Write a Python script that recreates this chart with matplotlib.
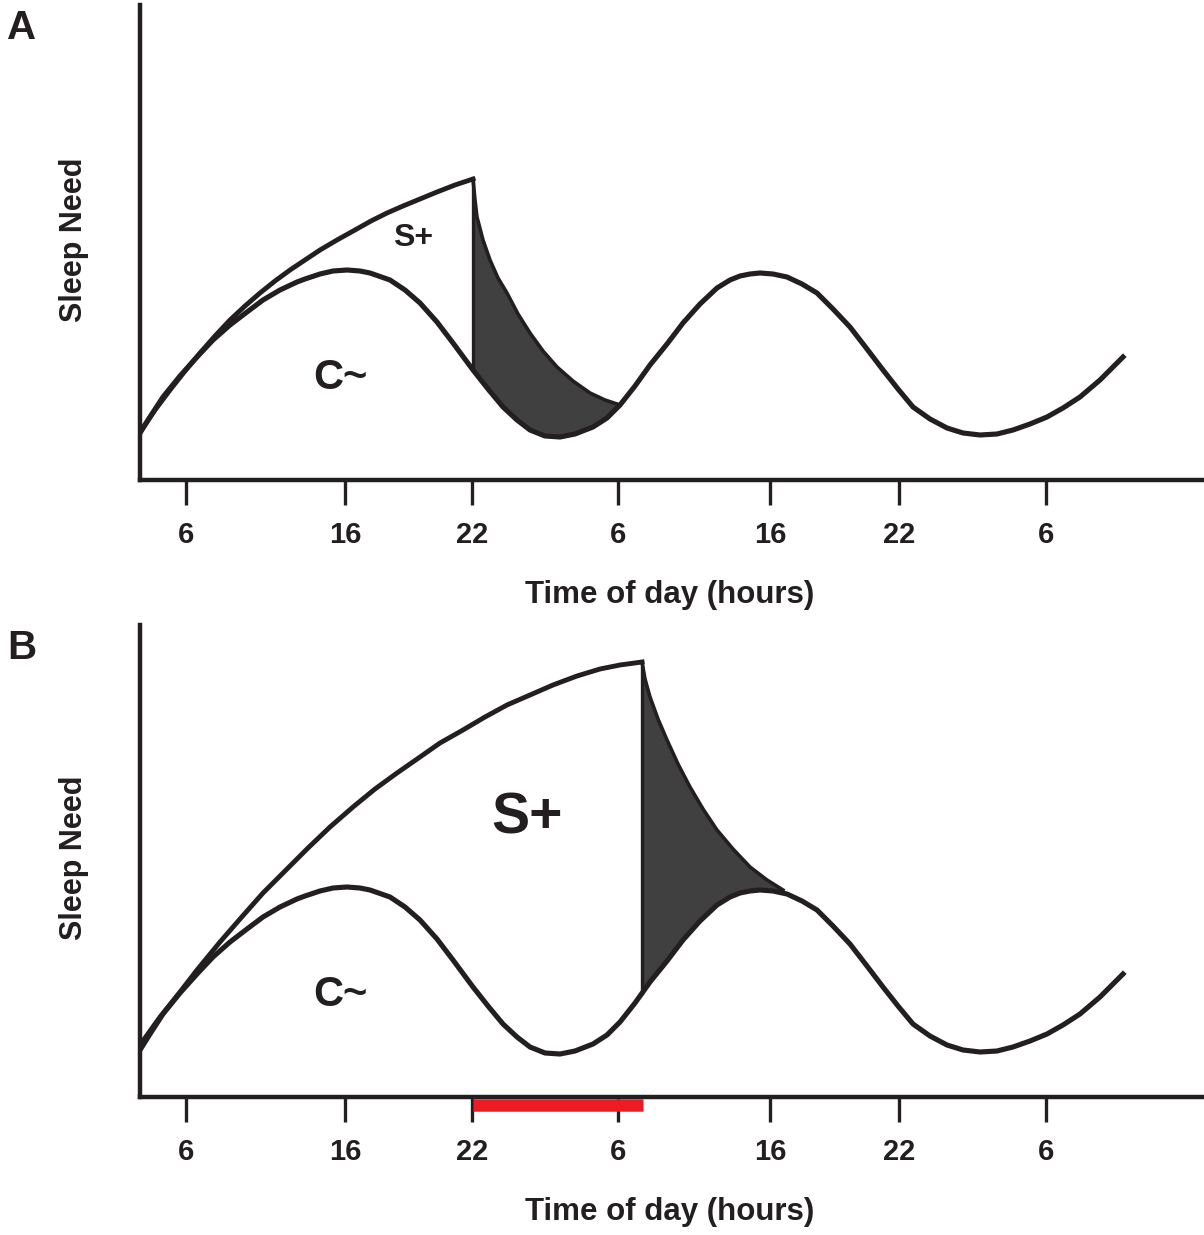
import numpy as np
import matplotlib
matplotlib.use("Agg")
import matplotlib.pyplot as plt

# x is a schematic time position (axis units), y is sleep need (axis units)
tick_pos = [46, 205, 332, 478, 630, 759, 906]
tick_labels = ["6", "16", "22", "6", "16", "22", "6"]

# circadian process C~ (same shape in both panels)
c_x = [0, 10, 23, 40, 57, 73, 90, 107, 123, 140, 157, 165, 180, 193, 207,
       220, 230, 250, 265, 280, 297, 313, 333, 348, 363, 377, 390, 405, 420,
       435, 453, 467, 480, 495, 510, 527, 543, 560, 577, 590, 600, 610, 620,
       633, 647, 662, 677, 693, 710, 727, 743, 758, 773, 790, 807, 823, 840,
       857, 873, 890, 907, 923, 940, 960, 983]
c_y = [47, 63, 83, 104, 123, 140, 155, 168, 180, 190, 198, 201, 206, 209, 210,
       209, 207, 200, 190, 177, 158, 137, 110, 91, 73, 60, 50, 44, 43,
       46, 53, 62, 75, 94, 115, 136, 157, 176, 192, 200, 204, 206, 207,
       206, 203, 196, 187, 171, 153, 131, 110, 91, 73, 61, 52, 47, 45,
       46, 50, 56, 63, 72, 83, 100, 123]

# panel A: homeostatic process S+ rising while awake, then decaying in sleep
sA_x = [0, 15, 30, 45, 60, 75, 90, 105, 120, 135, 150, 165, 180, 197, 215,
        231, 247, 263, 280, 297, 315, 333]
sA_y = [48, 70, 90, 109, 127, 144, 160, 174, 187, 199, 210, 220, 230, 240, 250,
        259, 267, 274, 281, 288, 295, 301]
dA_x = [333, 335, 337, 343, 350, 358, 367, 378, 390, 403, 417, 433, 450, 465, 480]
dA_y = [301, 280, 263, 240, 220, 202, 187, 166, 147, 129, 113, 99, 87, 80, 75]
onsetA_c = 110

# panel B: sleep deprived, S+ keeps rising
sB_x = [0, 20, 40, 57, 80, 100, 123, 145, 168, 190, 213, 235, 257, 280, 300,
        323, 345, 367, 390, 413, 437, 460, 480, 502]
sB_y = [52, 80, 105, 127, 155, 178, 204, 226, 249, 270, 290, 308, 324, 340, 354,
        367, 380, 392, 402, 412, 421, 428, 432, 435]
dB_x = [502, 505, 510, 518, 527, 538, 550, 563, 577, 593, 610, 627, 643]
dB_y = [435, 418, 400, 378, 357, 333, 310, 288, 267, 248, 230, 217, 207]
onsetB_c = 104

# missed sleep bar (panel B)
sleep_bar = [333, 503]

ink = "#231f20"
dark = "#404040"
red = "#ed1c24"
bold = ["Liberation Sans", "DejaVu Sans"]

fig = plt.figure(figsize=(12.04, 12.35), dpi=100)


def draw_panel(ax, s_x, s_y, d_x, d_y, onset_c, s_label_pos, s_size, ymax):
    # dark area between the decaying S curve and C
    cx = np.array(c_x)
    cy = np.array(c_y)
    mask = (cx > d_x[0]) & (cx < d_x[-1])
    poly_x = list(d_x) + list(cx[mask][::-1]) + [d_x[0]]
    poly_y = list(d_y) + list(cy[mask][::-1]) + [onset_c]
    ax.fill(poly_x, poly_y, color=dark, zorder=1, lw=0)

    ax.plot(c_x, c_y, color=ink, lw=3.7, zorder=3, solid_joinstyle="round")
    ax.plot(s_x, s_y, color=ink, lw=3.5, zorder=3, solid_joinstyle="round")
    ax.plot(d_x, d_y, color=ink, lw=2.6, zorder=3, solid_joinstyle="round")
    ax.plot([d_x[0], d_x[0]], [onset_c, d_y[0]], color=ink, lw=2.4, zorder=3)

    ax.set_xlim(0, 1064)
    ax.set_ylim(0, ymax)
    for side in ["top", "right"]:
        ax.spines[side].set_visible(False)
    for side in ["left", "bottom"]:
        ax.spines[side].set_linewidth(3.2)
        ax.spines[side].set_color(ink)
    ax.set_yticks([])
    ax.set_xticks(tick_pos)
    ax.set_xticklabels(tick_labels, fontfamily=bold, fontweight="bold",
                       fontsize=21, color=ink)
    ax.tick_params(axis="x", length=18, width=2.4, color=ink, pad=11.5)

    ax.text(-66, ymax * 0.5 + 3, "Sleep Need", rotation=90, ha="center",
            va="center", fontsize=22, fontweight="bold", family=bold,
            color=ink, clip_on=False)
    ax.text(530, -115, "Time of day (hours)", ha="center", va="center",
            fontsize=22.5, fontweight="bold", family=bold, color=ink,
            clip_on=False)
    ax.text(200, 102, "C~", ha="center", va="center", fontsize=30,
            fontweight="bold", family=bold, color=ink)
    ax.text(s_label_pos[0], s_label_pos[1], "S+", ha="center", va="center",
            fontsize=s_size, fontweight="bold", family=bold, color=ink)
    ax.patch.set_alpha(0)


axA = fig.add_axes([140 / 1204, 1 - 480 / 1235, 1064 / 1204, 475 / 1235])
draw_panel(axA, sA_x, sA_y, dA_x, dA_y, onsetA_c, (273, 242), 23, 475)

axB = fig.add_axes([140 / 1204, 1 - 1097 / 1235, 1064 / 1204, 472 / 1235])
draw_panel(axB, sB_x, sB_y, dB_x, dB_y, onsetB_c, (387, 279), 41, 472)
axB.plot(sleep_bar, [-8, -8], color=red, lw=9, solid_capstyle="butt",
         clip_on=False, zorder=4)

fig.text(22 / 1204, 1 - 28 / 1235, "A", ha="center", va="center",
         fontsize=29, fontweight="bold", family=bold, color=ink)
fig.text(22 / 1204, 1 - 648 / 1235, "B", ha="center", va="center",
         fontsize=29, fontweight="bold", family=bold, color=ink)

fig.savefig("out.png", dpi=100)
